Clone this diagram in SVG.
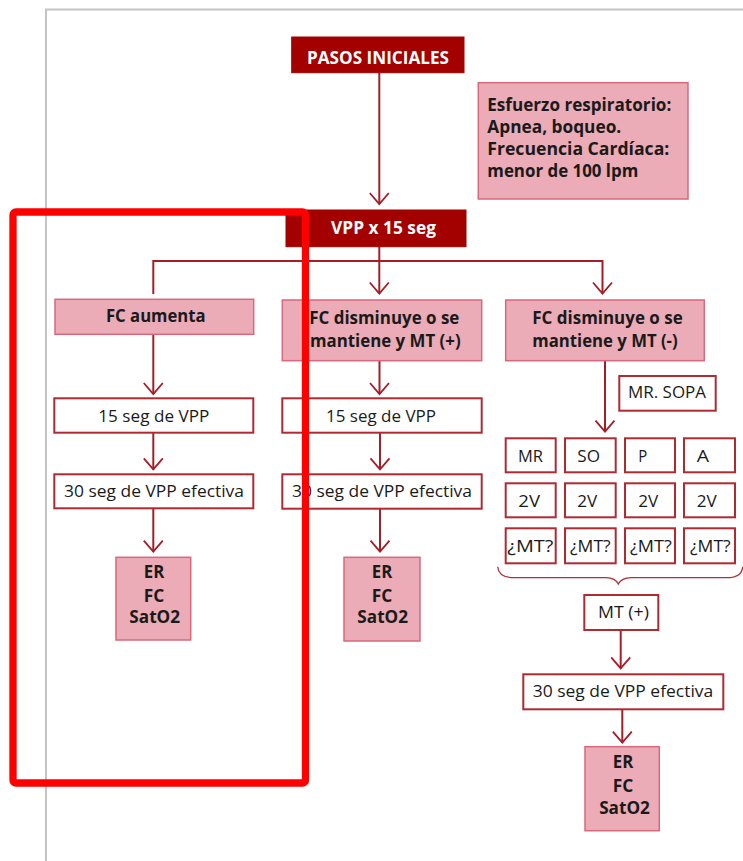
<svg xmlns="http://www.w3.org/2000/svg" width="743" height="861" viewBox="0 0 743 861">
<defs>
<style>
.t{font-family:"Open Sans","Noto Sans","Liberation Sans",sans-serif;font-size:17px;fill:#1a1a1a}
.b{font-weight:bold}
.w{fill:#ffffff;font-weight:bold}
.dark{fill:#a30000;stroke:#a30000;stroke-width:1}
.pink{fill:#ebabb7;stroke:#d9687d;stroke-width:1.5}
.white{fill:#ffffff;stroke:#b02a32;stroke-width:2}
.con{fill:none;stroke:#a51d26;stroke-width:2}
</style>
<marker id="arr" markerUnits="userSpaceOnUse" markerWidth="26" markerHeight="26" viewBox="-13 -13 26 26" refX="0" refY="0" orient="auto" overflow="visible">
<path d="M-11,-9.5 L0,0 L-11,9.5" fill="none" stroke="#a51d26" stroke-width="1.8"/>
</marker>
</defs>
<rect width="743" height="861" fill="#ffffff"/>
<g id="page-border">
<path d="M46,861 L46,9.5 L743,9.5" fill="none" stroke="#c4c4c4" stroke-width="2"/>
</g>
<g id="connectors">
<line class="con" x1="379.3" y1="73" x2="379.3" y2="204" marker-end="url(#arr)"/>
<line class="con" x1="379.3" y1="247" x2="379.3" y2="293.5" marker-end="url(#arr)"/>
<path class="con" d="M153.3,294 L153.3,261 L602.5,261 L602.5,293.5" marker-end="url(#arr)"/>
<line class="con" x1="153.3" y1="334.5" x2="153.3" y2="394" marker-end="url(#arr)"/>
<line class="con" x1="153.3" y1="433" x2="153.3" y2="469.3" marker-end="url(#arr)"/>
<line class="con" x1="153.3" y1="508.5" x2="153.3" y2="551.7" marker-end="url(#arr)"/>
<line class="con" x1="379.5" y1="361" x2="379.5" y2="394" marker-end="url(#arr)"/>
<line class="con" x1="380" y1="433" x2="380" y2="469.3" marker-end="url(#arr)"/>
<line class="con" x1="380" y1="509" x2="380" y2="551.7" marker-end="url(#arr)"/>
<line class="con" x1="605" y1="361" x2="605" y2="431.7" marker-end="url(#arr)"/>
<line class="con" x1="620.7" y1="630" x2="620.7" y2="668.3" marker-end="url(#arr)"/>
<line class="con" x1="622.3" y1="709.5" x2="622.3" y2="742.7" marker-end="url(#arr)"/>
<path d="M497.7,566.7 Q498.5,577.5 514,577.7 L606,577.7 Q615.5,578 618.3,584 Q621.5,578 631,577.7 L727,577.7 Q742,577.5 742.7,566.7" fill="none" stroke="#b03038" stroke-width="1.3"/>
</g>
<g id="pasos-iniciales">
<rect class="dark" x="291.7" y="37" width="172.3" height="35.7"/>
<text class="t w" x="378" y="64" text-anchor="middle" font-size="18" textLength="142" lengthAdjust="spacingAndGlyphs">PASOS INICIALES</text>
</g>
<g id="esfuerzo">
<rect class="pink" x="478.3" y="82.7" width="209.7" height="116.3"/>
<text class="t b" x="487.3" y="110.7" textLength="184" lengthAdjust="spacingAndGlyphs">Esfuerzo respiratorio:</text>
<text class="t b" x="487.3" y="133" textLength="134" lengthAdjust="spacingAndGlyphs">Apnea, boqueo.</text>
<text class="t b" x="487.3" y="155" textLength="182" lengthAdjust="spacingAndGlyphs">Frecuencia Cardíaca:</text>
<text class="t b" x="487.3" y="177" textLength="151" lengthAdjust="spacingAndGlyphs">menor de 100 lpm</text>
</g>
<g id="vpp">
<rect class="dark" x="286" y="210" width="180" height="36.7"/>
<text class="t w" x="383.5" y="234" text-anchor="middle" textLength="105" lengthAdjust="spacingAndGlyphs">VPP x 15 seg</text>
</g>
<g id="fc-aumenta">
<rect class="pink" x="55" y="299.3" width="198.7" height="35"/>
<text class="t b" x="155.8" y="322.3" text-anchor="middle" textLength="99.7" lengthAdjust="spacingAndGlyphs">FC aumenta</text>
</g>
<g id="fc-mt-pos">
<rect class="pink" x="282.3" y="300" width="199.4" height="60.7"/>
<text class="t b" x="384.3" y="324" text-anchor="middle" textLength="150" lengthAdjust="spacingAndGlyphs">FC disminuye o se</text>
<text class="t b" x="385.3" y="347.3" text-anchor="middle" textLength="150.7" lengthAdjust="spacingAndGlyphs">mantiene y MT (+)</text>
</g>
<g id="fc-mt-neg">
<rect class="pink" x="505.7" y="300" width="198.6" height="60.7"/>
<text class="t b" x="607.5" y="324" text-anchor="middle" textLength="150.4" lengthAdjust="spacingAndGlyphs">FC disminuye o se</text>
<text class="t b" x="605" y="347.3" text-anchor="middle" textLength="145.3" lengthAdjust="spacingAndGlyphs">mantiene y MT (-)</text>
</g>
<g id="vpp15-1">
<rect class="white" x="54.3" y="398.3" width="199" height="34.4"/>
<text class="t" x="153.8" y="421.7" text-anchor="middle" textLength="111" lengthAdjust="spacingAndGlyphs">15 seg de VPP</text>
</g>
<g id="vpp15-2">
<rect class="white" x="282.3" y="398.3" width="199.4" height="34.4"/>
<text class="t" x="381" y="421.7" text-anchor="middle" textLength="110" lengthAdjust="spacingAndGlyphs">15 seg de VPP</text>
</g>
<g id="mr-sopa">
<rect class="white" x="619.3" y="376" width="96.4" height="34.7"/>
<text class="t" x="667" y="398.3" text-anchor="middle" textLength="78" lengthAdjust="spacingAndGlyphs">MR. SOPA</text>
</g>
<g id="vpp30-1">
<rect class="white" x="54.3" y="474.3" width="199" height="34"/>
<text class="t" x="154" y="497.3" text-anchor="middle" textLength="180" lengthAdjust="spacingAndGlyphs">30 seg de VPP efectiva</text>
</g>
<g id="vpp30-2">
<rect class="white" x="282.3" y="474.3" width="199.4" height="34.4"/>
<text class="t" x="382" y="497.3" text-anchor="middle" textLength="180" lengthAdjust="spacingAndGlyphs">30 seg de VPP efectiva</text>
</g>
<g id="eval-1">
<rect class="pink" x="116" y="557.3" width="74.7" height="82.7"/>
<text class="t b" x="154" y="577.7" text-anchor="middle" textLength="20.5" lengthAdjust="spacingAndGlyphs">ER</text>
<text class="t b" x="154" y="601.7" text-anchor="middle" textLength="20.5" lengthAdjust="spacingAndGlyphs">FC</text>
<text class="t b" x="154.7" y="623.3" text-anchor="middle" textLength="50.7" lengthAdjust="spacingAndGlyphs">SatO2</text>
</g>
<g id="eval-2">
<rect class="pink" x="344" y="557.3" width="76" height="83.7"/>
<text class="t b" x="382" y="577.7" text-anchor="middle" textLength="20.5" lengthAdjust="spacingAndGlyphs">ER</text>
<text class="t b" x="382" y="601.7" text-anchor="middle" textLength="20.5" lengthAdjust="spacingAndGlyphs">FC</text>
<text class="t b" x="382.7" y="623.3" text-anchor="middle" textLength="50.7" lengthAdjust="spacingAndGlyphs">SatO2</text>
</g>
<g id="grid-mr">
<rect class="white" x="505.7" y="438.3" width="50" height="34"/>
<text class="t" x="518" y="461.7" textLength="25" lengthAdjust="spacingAndGlyphs">MR</text>
</g>
<g id="grid-so">
<rect class="white" x="565" y="438.3" width="50.7" height="34"/>
<text class="t" x="577.3" y="461.7" textLength="22.7" lengthAdjust="spacingAndGlyphs">SO</text>
</g>
<g id="grid-p">
<rect class="white" x="625" y="438.3" width="50" height="34"/>
<text class="t" x="638.3" y="461.7" textLength="9" lengthAdjust="spacingAndGlyphs">P</text>
</g>
<g id="grid-a">
<rect class="white" x="684" y="438.3" width="51" height="34"/>
<text class="t" x="696.7" y="461.7" textLength="12.3" lengthAdjust="spacingAndGlyphs">A</text>
</g>
<g id="grid-2v-1">
<rect class="white" x="505.7" y="483.3" width="50" height="34"/>
<text class="t" x="518.3" y="507.3" textLength="21.7" lengthAdjust="spacingAndGlyphs">2V</text>
</g>
<g id="grid-2v-2">
<rect class="white" x="565" y="483.3" width="50.7" height="34"/>
<text class="t" x="577.3" y="507.3" textLength="20" lengthAdjust="spacingAndGlyphs">2V</text>
</g>
<g id="grid-2v-3">
<rect class="white" x="625" y="483.3" width="50" height="34"/>
<text class="t" x="638.3" y="507.3" textLength="20" lengthAdjust="spacingAndGlyphs">2V</text>
</g>
<g id="grid-2v-4">
<rect class="white" x="684" y="483.3" width="51" height="34"/>
<text class="t" x="696.7" y="507.3" textLength="20" lengthAdjust="spacingAndGlyphs">2V</text>
</g>
<g id="grid-mt-1">
<rect class="white" x="505.7" y="528.3" width="50" height="35"/>
<text class="t" x="507.3" y="551.7" textLength="46" lengthAdjust="spacingAndGlyphs">¿MT?</text>
</g>
<g id="grid-mt-2">
<rect class="white" x="565" y="528.3" width="50.7" height="35"/>
<text class="t" x="570" y="551.7" textLength="40.7" lengthAdjust="spacingAndGlyphs">¿MT?</text>
</g>
<g id="grid-mt-3">
<rect class="white" x="625" y="528.3" width="50" height="35"/>
<text class="t" x="630" y="551.7" textLength="41.7" lengthAdjust="spacingAndGlyphs">¿MT?</text>
</g>
<g id="grid-mt-4">
<rect class="white" x="684" y="528.3" width="51" height="35"/>
<text class="t" x="690" y="551.7" textLength="40.7" lengthAdjust="spacingAndGlyphs">¿MT?</text>
</g>
<g id="mt-pos">
<rect class="white" x="584.3" y="595" width="74" height="35"/>
<text class="t" x="623.5" y="618.3" text-anchor="middle" textLength="51" lengthAdjust="spacingAndGlyphs">MT (+)</text>
</g>
<g id="vpp30-3">
<rect class="white" x="523.3" y="674.3" width="200" height="35"/>
<text class="t" x="623" y="696.7" text-anchor="middle" textLength="180.6" lengthAdjust="spacingAndGlyphs">30 seg de VPP efectiva</text>
</g>
<g id="eval-3">
<rect class="pink" x="585" y="746.7" width="74.3" height="84"/>
<text class="t b" x="623" y="768.3" text-anchor="middle" textLength="20.5" lengthAdjust="spacingAndGlyphs">ER</text>
<text class="t b" x="623" y="791.7" text-anchor="middle" textLength="20.5" lengthAdjust="spacingAndGlyphs">FC</text>
<text class="t b" x="624.5" y="814" text-anchor="middle" textLength="50.7" lengthAdjust="spacingAndGlyphs">SatO2</text>
</g>
<g id="highlight">
<rect x="13" y="212" width="292.5" height="571" rx="3" fill="none" stroke="#ff0000" stroke-width="7.3"/>
</g>
</svg>
